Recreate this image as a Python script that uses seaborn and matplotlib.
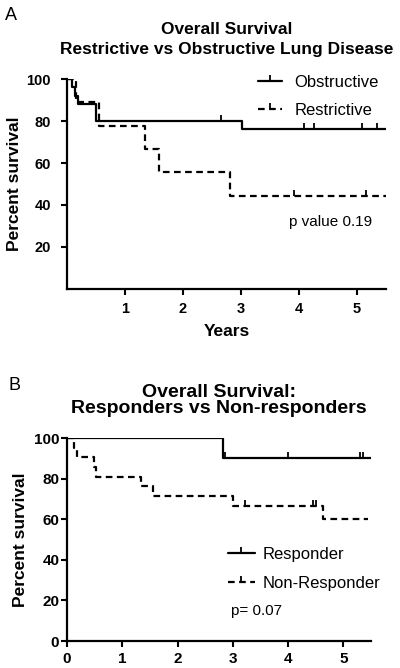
import pandas as pd
import matplotlib
matplotlib.use("Agg")
import matplotlib.pyplot as plt
from matplotlib.lines import Line2D
import seaborn as sns

sns.set_style("ticks")
plt.rcParams['font.family'] = ['Liberation Sans', 'DejaVu Sans']
plt.rcParams.update({'text.color': 'black', 'axes.labelcolor': 'black',
                     'xtick.color': 'black', 'ytick.color': 'black',
                     'axes.edgecolor': 'black'})

# Panel A: Kaplan-Meier steps (years, percent survival)
obs_t = [0, 0.08, 0.14, 0.19, 0.50, 3.02, 5.5]
obs_s = [100, 96, 92, 88, 80, 76, 76]
obs_cens_t = [2.65, 4.09, 4.26, 5.09, 5.35]
obs_cens_s = [80, 76, 76, 76, 76]

res_t = [0, 0.15, 0.55, 1.35, 1.58, 2.81, 5.5]
res_s = [100, 88.9, 77.8, 66.7, 55.6, 44.4, 44.4]
res_cens_t = [3.92, 5.15]
res_cens_s = [44.4, 44.4]

# Panel B
resp_t = [0, 2.82, 5.5]
resp_s = [100, 90, 90]
resp_cens_t = [2.86, 4.0, 5.31, 5.36]
resp_cens_s = [90, 90, 90, 90]

non_t = [0, 0.13, 0.18, 0.48, 0.53, 1.33, 1.56, 3.01, 4.64, 5.45]
non_s = [100, 95.2, 90.5, 85.7, 81.0, 76.2, 71.4, 66.7, 60.0, 60.0]
non_cens_t = [3.22, 4.45, 4.50]
non_cens_s = [66.7, 66.7, 66.7]

fig = plt.figure(figsize=(4, 6.68), dpi=100)
ax1 = fig.add_axes([0.1675, 0.5674, 0.7975, 0.3143])
ax2 = fig.add_axes([0.1675, 0.0404, 0.76, 0.3039])

LW = 1.6
MS = 4


def km(ax, t, s, ct, cs, dashed):
    df = pd.DataFrame({'t': t, 's': s})
    sns.lineplot(data=df, x='t', y='s', ax=ax, color='black', linewidth=LW,
                 drawstyle='steps-post', estimator=None, sort=False)
    if dashed:
        ax.lines[-1].set_dashes((3, 2))
    ax.plot(ct, cs, linestyle='none', marker=2, markersize=MS,
            markeredgewidth=1.3, color='black')


def style(ax, tick_fs, ypad, xpad):
    for sp in ['top', 'right']:
        ax.spines[sp].set_visible(False)
    for sp in ['left', 'bottom']:
        ax.spines[sp].set_linewidth(1.6)
    ax.tick_params(width=1.5, length=4.5, labelsize=tick_fs)
    ax.tick_params(axis='y', pad=ypad)
    ax.tick_params(axis='x', pad=xpad)
    for lab in ax.get_xticklabels() + ax.get_yticklabels():
        lab.set_fontweight('bold')
    ax.set_xlim(0, 5.5)
    ax.set_ylim(0, 100)
    ax.set_ylabel('Percent survival', fontsize=12.5, fontweight='bold')


def handles():
    return [Line2D([], [], color='black', lw=LW, marker=2, markersize=MS,
                   markeredgewidth=1.3),
            Line2D([], [], color='black', lw=LW, dashes=(3, 2), marker=2,
                   markersize=MS, markeredgewidth=1.3)]


# ---- Panel A
km(ax1, obs_t, obs_s, obs_cens_t, obs_cens_s, False)
km(ax1, res_t, res_s, res_cens_t, res_cens_s, True)
ax1.set_xticks([1, 2, 3, 4, 5])
ax1.set_yticks([20, 40, 60, 80, 100])
style(ax1, 10.5, 7, 5)
ax1.yaxis.set_label_coords(-0.141, 0.5)
ax1.set_xlabel('Years', fontsize=12.5, fontweight='bold', va='top')
ax1.xaxis.set_label_coords(0.5, -0.165)
ax1.set_title('Overall Survival\nRestrictive vs Obstructive Lung Disease',
              fontsize=12.5, fontweight='bold', linespacing=1.4, pad=18)
ax1.legend(handles(), ['Obstructive', 'Restrictive'], loc='upper left',
           bbox_to_anchor=(0.599, 1.02), borderpad=0, borderaxespad=0,
           frameon=False, fontsize=12, handlelength=1.45, labelspacing=0.8,
           handletextpad=0.75)
ax1.text(4.55, 32, 'p value 0.19', fontsize=11, ha='center', va='center')
fig.text(0.0125, 1 - 20 / 668, 'A', fontsize=13, va='baseline')

# ---- Panel B
km(ax2, resp_t, resp_s, resp_cens_t, resp_cens_s, False)
km(ax2, non_t, non_s, non_cens_t, non_cens_s, True)
ax2.set_xticks([0, 1, 2, 3, 4, 5])
ax2.set_yticks([0, 20, 40, 60, 80, 100])
style(ax2, 11, 1, 3.5)
ax2.yaxis.set_label_coords(-0.128, 0.5)
ax2.set_xlabel('')
ax2.set_title('Overall Survival:\nResponders vs Non-responders',
              fontsize=14, fontweight='bold', linespacing=0.9, pad=18)
ax2.legend(handles(), ['Responder', 'Non-Responder'], loc='upper left',
           bbox_to_anchor=(0.53, 0.465), borderpad=0, borderaxespad=0,
           frameon=False, fontsize=12, handlelength=1.6, labelspacing=0.86,
           handletextpad=0.45)
ax2.text(3.43, 15, 'p= 0.07', fontsize=11, ha='center', va='center')
fig.text(0.02, 1 - 390 / 668, 'B', fontsize=13, va='baseline')

fig.savefig('out.png', dpi=100)
